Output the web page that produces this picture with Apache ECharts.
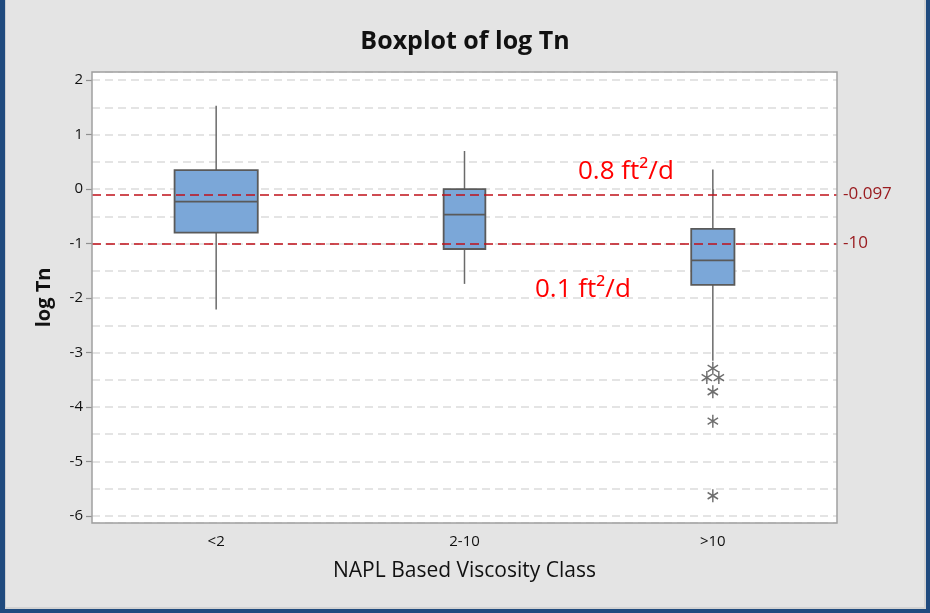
<!DOCTYPE html>
<html>
<head>
<meta charset="utf-8">
<script src="https://cdn.jsdelivr.net/npm/echarts@6/dist/echarts.min.js"></script>
<style>
  html, body { margin: 0; padding: 0; background: #e4e4e4; }
  #chart { width: 930px; height: 613px; }
</style>
</head>
<body>
<div id="chart"></div>
<script>
// Viscosity classes on the x axis
const categories = ['<2', '2-10', '>10'];

// Box summaries for log Tn per class
const whiskerLow  = [-2.21, -1.74, -3.15];
const quartile1   = [-0.80, -1.10, -1.76];
const medians     = [-0.23, -0.47, -1.31];
const quartile3   = [0.35, 0.00, -0.73];
const whiskerHigh = [1.53, 0.70, 0.36];

// Outliers (all in the >10 class)
const outlierClass  = ['>10', '>10', '>10', '>10', '>10', '>10'];
const outlierValues = [-3.29, -3.46, -3.46, -3.72, -4.26, -5.63];

// Reference lines: log(0.8) and log(0.1)
const refValues = [-0.097, -1.0];
const refLabels = ['-0.097', '-10'];

// Annotation texts
const refNotes = ['0.8 ft\u00B2/d', '0.1 ft\u00B2/d'];

// ---- styling ----
const GRID = { left: 92, right: 93, top: 72, bottom: 90 };
const BOX_FRACTION = [0.335, 0.168, 0.174];   // box width as share of the category band
const BOX_FILL = '#7ba7d8';
const BOX_EDGE = '#5a5a5a';
const WHISKER = '#6a6a6a';
const REF_RED = '#c0101a';
const FONT = '"Open Sans", "Noto Sans", sans-serif';

const boxData = categories.map((c, i) => [i, whiskerLow[i], quartile1[i], medians[i], quartile3[i], whiskerHigh[i]]);

// tied outliers are placed side by side
const tieCount = {};
outlierValues.forEach((v, i) => { const k = outlierClass[i] + '|' + v; tieCount[k] = (tieCount[k] || 0) + 1; });
const tieSeen = {};
const outlierData = outlierValues.map((v, i) => {
  const k = outlierClass[i] + '|' + v;
  const n = tieCount[k];
  const j = tieSeen[k] = (tieSeen[k] || 0);
  tieSeen[k]++;
  const dx = n > 1 ? (j - (n - 1) / 2) * 12 : 0;
  return { value: [outlierClass[i], v], symbolOffset: [dx, 0] };
});

const ASTERISK = 'path://M0,-5L0,5M-4.33,-2.5L4.33,2.5M-4.33,2.5L4.33,-2.5';

const W = 930, H = 613;
const chart = echarts.init(document.getElementById('chart'));
chart.setOption({
  backgroundColor: '#e4e4e4',
  animation: false,
  title: {
    text: 'Boxplot of log Tn',
    left: 'center',
    top: 24,
    textStyle: { fontFamily: FONT, fontSize: 25, fontWeight: 'bold', color: '#111' }
  },
  grid: {
    left: GRID.left, right: GRID.right, top: GRID.top, bottom: GRID.bottom,
    show: true, backgroundColor: '#ffffff', borderWidth: 0
  },
  xAxis: {
    type: 'category',
    data: categories,
    name: 'NAPL Based Viscosity Class',
    nameLocation: 'middle',
    nameGap: 38,
    nameTextStyle: { fontFamily: FONT, fontSize: 21, color: '#111' },
    axisLine: { show: false },
    axisTick: { show: true, alignWithLabel: true, length: 6, lineStyle: { color: '#909090', width: 1.2 } },
    axisLabel: { fontFamily: FONT, fontSize: 15, color: '#111', margin: 11 },
    splitLine: { show: false }
  },
  yAxis: {
    type: 'value',
    min: -6.13, max: 2.15,
    splitNumber: 8, minInterval: 1, maxInterval: 1,
    name: 'log Tn',
    nameLocation: 'middle',
    nameGap: 38,
    nameTextStyle: { fontFamily: FONT, fontSize: 20, fontWeight: 'bold', color: '#111' },
    axisLine: { show: false },
    axisTick: { show: true, length: 6, lineStyle: { color: '#909090', width: 1.2 } },
    axisLabel: { fontFamily: FONT, fontSize: 15, color: '#111', margin: 9 },
    splitLine: { show: true, lineStyle: { color: '#dcdcdc', width: 1.5, type: [8, 5] } },
    minorTick: { show: false, splitNumber: 2 },
    minorSplitLine: { show: true, lineStyle: { color: '#dcdcdc', width: 1.5, type: [8, 5] } }
  },
  series: [
    {
      type: 'scatter',
      z: 2,
      data: outlierData,
      symbol: ASTERISK,
      symbolSize: [12, 13],
      symbolKeepAspect: true,
      itemStyle: { color: 'none', borderColor: '#4a4a4a', borderWidth: 1.5 },
      markLine: {
        silent: true,
        symbol: 'none',
        lineStyle: { color: REF_RED, width: 1.5, type: [9, 5] },
        label: {
          show: true, position: 'end', distance: 6,
          fontFamily: FONT, fontSize: 17, color: '#9a1c20'
        },
        data: refValues.map((v, i) => ({ yAxis: v, label: { formatter: refLabels[i] } }))
      }
    },
    {
      type: 'custom',
      z: 3,
      data: boxData,
      encode: { x: 0, y: [1, 2, 3, 4, 5] },
      renderItem: function (params, api) {
        const i = api.value(0);
        const x = api.coord([i, 0])[0];
        const w = api.size([1, 0])[0] * BOX_FRACTION[i];
        const yLo = api.coord([i, api.value(1)])[1];
        const yQ1 = api.coord([i, api.value(2)])[1];
        const yMed = api.coord([i, api.value(3)])[1];
        const yQ3 = api.coord([i, api.value(4)])[1];
        const yHi = api.coord([i, api.value(5)])[1];
        const lineStyle = { stroke: WHISKER, lineWidth: 1.5 };
        return {
          type: 'group',
          children: [
            { type: 'line', shape: { x1: x, y1: yHi, x2: x, y2: yQ3 }, style: lineStyle },
            { type: 'line', shape: { x1: x, y1: yQ1, x2: x, y2: yLo }, style: lineStyle },
            { type: 'rect', shape: { x: x - w / 2, y: yQ3, width: w, height: yQ1 - yQ3 },
              style: { fill: BOX_FILL, stroke: BOX_EDGE, lineWidth: 1.8 } },
            { type: 'line', shape: { x1: x - w / 2, y1: yMed, x2: x + w / 2, y2: yMed },
              style: { stroke: BOX_EDGE, lineWidth: 1.8 } }
          ]
        };
      }
    }
  ],
  graphic: [
    // plot frame, drawn above the grid lines
    { type: 'rect', z: 8, silent: true,
      shape: { x: GRID.left, y: GRID.top, width: W - GRID.left - GRID.right, height: H - GRID.top - GRID.bottom },
      style: { fill: 'none', stroke: '#a0a0a0', lineWidth: 1.5 } },
    { type: 'text', left: 578, top: 159, z: 10,
      style: { text: refNotes[0], fontFamily: FONT, fontSize: 26, fill: '#ff0000' } },
    { type: 'text', left: 535, top: 277, z: 10,
      style: { text: refNotes[1], fontFamily: FONT, fontSize: 26, fill: '#ff0000' } },
    // window frame
    { type: 'rect', shape: { x: 0, y: 0, width: 5, height: 613 }, style: { fill: '#1f4a7e' }, z: 20 },
    { type: 'rect', shape: { x: 5, y: 0, width: 1, height: 609 }, style: { fill: '#c8ccd2' }, z: 20 },
    { type: 'rect', shape: { x: 924, y: 0, width: 2, height: 609 }, style: { fill: '#d2d2d2' }, z: 20 },
    { type: 'rect', shape: { x: 926, y: 0, width: 4, height: 613 }, style: { fill: '#1f4a7e' }, z: 20 },
    { type: 'rect', shape: { x: 5, y: 607, width: 921, height: 2 }, style: { fill: '#d2d2d2' }, z: 20 },
    { type: 'rect', shape: { x: 0, y: 609, width: 930, height: 4 }, style: { fill: '#1f4a7e' }, z: 20 }
  ]
});
</script>
</body>
</html>
